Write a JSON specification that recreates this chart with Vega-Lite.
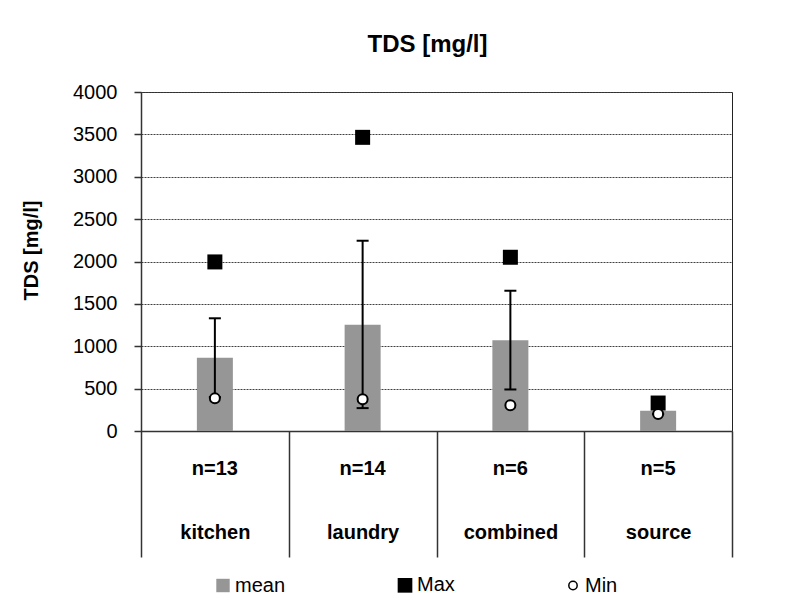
{
  "$schema": "https://vega.github.io/schema/vega-lite/v6.json",
  "width": 591,
  "height": 339,
  "autosize": {"type": "none"},
  "padding": {"left": 141, "top": 92, "right": 56, "bottom": 178},
  "background": "white",
  "title": {"text": "TDS [mg/l]", "font": "Liberation Sans", "fontSize": 24, "fontWeight": "bold", "color": "black", "anchor": "middle", "offset": 25, "dx": -9},
  "config": {"view": {"stroke": "#222", "strokeWidth": 1}, "font": "Liberation Sans"},
  "data": {"values": [
    {"group": "kitchen", "sample": "n=13", "mean": 865, "sd_lower": 400, "sd_upper": 1330, "max": 1995, "min": 385},
    {"group": "laundry", "sample": "n=14", "mean": 1255, "sd_lower": 270, "sd_upper": 2245, "max": 3465, "min": 375},
    {"group": "combined", "sample": "n=6", "mean": 1070, "sd_lower": 490, "sd_upper": 1655, "max": 2050, "min": 305},
    {"group": "source", "sample": "n=5", "mean": 240, "sd_lower": 200, "sd_upper": 280, "max": 330, "min": 200}
  ]},
  "layer": [
    {
      "mark": {"type": "bar", "width": 36},
      "encoding": {
        "x": {"field": "group", "type": "nominal", "sort": null,
          "scale": {"paddingInner": 0, "paddingOuter": 0},
          "axis": {"title": null, "tickBand": "extent", "ticks": true, "tickSize": 126, "tickColor": "#333", "tickWidth": 1.5, "domainColor": "#333", "domainWidth": 1.5, "labelAngle": 0, "labelFontSize": 20, "labelFontWeight": "bold", "labelFont": "Liberation Sans", "labelColor": "black", "labelBaseline": "alphabetic", "labelPadding": -19, "grid": false}},
        "y": {"field": "mean", "type": "quantitative", "title": "TDS [mg/l]",
          "scale": {"domain": [0, 4000], "nice": false},
          "axis": {"values": [0, 500, 1000, 1500, 2000, 2500, 3000, 3500, 4000], "format": "d", "grid": true, "gridColor": "#404040", "gridDash": [2, 1], "gridWidth": 1, "domainColor": "#333", "domainWidth": 1.5, "tickColor": "#333", "tickSize": 7, "tickWidth": 1.5, "labelFontSize": 20, "labelFont": "Liberation Sans", "labelColor": "black", "labelPadding": 17, "titleFontSize": 20, "titleFont": "Liberation Sans", "titleFontWeight": "bold", "titleColor": "black", "titleBaseline": "alphabetic", "titleX": -104, "titleY": 158}},
        "fill": {"datum": "mean", "type": "nominal",
          "scale": {"domain": ["mean", "Max", "Min"], "range": ["#969696", "#000000", "#ffffff"]},
          "legend": {"title": null, "orient": "none", "legendX": 72, "legendY": 483, "direction": "horizontal", "columnPadding": 108, "labelFontSize": 20, "labelFont": "Liberation Sans", "labelColor": "black", "symbolType": "square", "symbolSize": 196, "labelOffset": 2, "padding": 0,
            "encode": {"symbols": {"update": {
              "shape": {"signal": "datum.value === 'Min' ? 'circle' : 'square'"},
              "stroke": {"signal": "datum.value === 'Min' ? 'black' : 'transparent'"},
              "strokeWidth": {"value": 1.5},
              "size": {"signal": "datum.value === 'Min' ? 70 : datum.value === 'Max' ? 215 : 180"}
            }}}}}
      }
    },
    {
      "mark": {"type": "rule", "strokeWidth": 2, "color": "black"},
      "encoding": {
        "x": {"field": "group", "type": "nominal", "sort": null},
        "y": {"field": "sd_lower", "type": "quantitative", "title": "TDS [mg/l]"},
        "y2": {"field": "sd_upper"}
      }
    },
    {
      "mark": {"type": "tick", "orient": "horizontal", "size": 12, "thickness": 2, "color": "black", "opacity": 1},
      "encoding": {
        "x": {"field": "group", "type": "nominal", "sort": null},
        "y": {"field": "sd_upper", "type": "quantitative", "title": "TDS [mg/l]"}
      }
    },
    {
      "mark": {"type": "tick", "orient": "horizontal", "size": 12, "thickness": 2, "color": "black", "opacity": 1},
      "encoding": {
        "x": {"field": "group", "type": "nominal", "sort": null},
        "y": {"field": "sd_lower", "type": "quantitative", "title": "TDS [mg/l]"}
      }
    },
    {
      "mark": {"type": "point", "shape": "square", "filled": true, "size": 225, "opacity": 1},
      "encoding": {
        "x": {"field": "group", "type": "nominal", "sort": null},
        "y": {"field": "max", "type": "quantitative", "title": "TDS [mg/l]"},
        "fill": {"datum": "Max", "type": "nominal"}
      }
    },
    {
      "mark": {"type": "point", "shape": "circle", "filled": true, "size": 100, "stroke": "black", "strokeWidth": 2, "opacity": 1},
      "encoding": {
        "x": {"field": "group", "type": "nominal", "sort": null},
        "y": {"field": "min", "type": "quantitative", "title": "TDS [mg/l]"},
        "fill": {"datum": "Min", "type": "nominal"}
      }
    },
    {
      "mark": {"type": "text", "fontSize": 20, "fontWeight": "bold", "font": "Liberation Sans", "baseline": "alphabetic", "dy": 44, "color": "black"},
      "encoding": {
        "x": {"field": "group", "type": "nominal", "sort": null},
        "y": {"datum": 0, "type": "quantitative"},
        "text": {"field": "sample"}
      }
    }
  ]
}
